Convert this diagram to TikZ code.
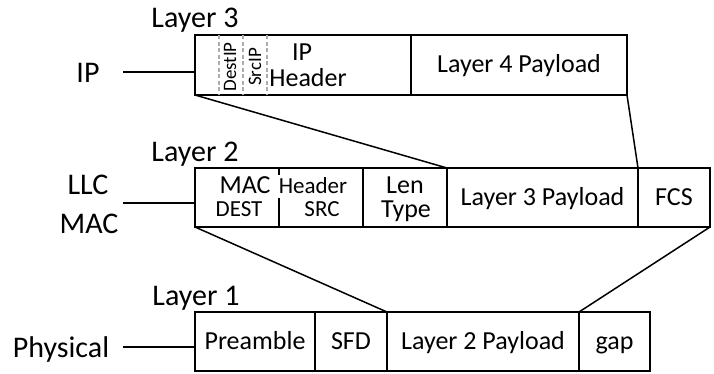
\documentclass[tikz,border=0pt]{standalone}
\usepackage{fontspec}
\setmainfont{Carlito}
\begin{document}
\begin{tikzpicture}[x=1pt,y=-1pt,line width=1.5pt,
  field/.style={draw,rectangle,anchor=north west,outer sep=0pt,inner sep=0pt,text height=17pt,text depth=2pt,font=\fontsize{26}{28}\selectfont},
  ftxt/.style={font=\fontsize{26}{28}\selectfont,inner sep=0pt,anchor=base},
  stxt/.style={font=\fontsize{23}{25}\selectfont,inner sep=0pt,anchor=base},
  rtxt/.style={font=\fontsize{19}{20}\selectfont,inner sep=0pt,rotate=90},
  lbl/.style={font=\fontsize{30}{32}\selectfont,inner sep=0pt,anchor=base},
  sep/.style={draw=gray!65,dash pattern=on 4pt off 2.5pt,line width=1.1pt}]
\useasboundingbox (0,0) rectangle (714,373);
% Layer 3
\node[field,minimum width=216pt,minimum height=60pt] (iph) at (195,35) {};
\node[field,minimum width=216pt,minimum height=60pt] (l4p) at (411,35) {Layer 4 Payload};
\draw[sep] (219,35) -- (219,95);
\draw[sep] (243,35) -- (243,95);
\draw[sep] (267,35) -- (267,95);
\node[rtxt] (dip) at (230,67) {DestIP};
\node[rtxt] (sip) at (255,67) {SrcIP};
\node[ftxt] (iptx) at (302,60) {IP};
\node[ftxt] (hdtx) at (308,86) {Header};
% Layer 2
\node[field,minimum width=168pt,minimum height=59pt] (mach) at (195,168) {};
\node[field,minimum width=84pt,minimum height=59pt] (lent) at (363,168) {};
\node[field,minimum width=191pt,minimum height=59pt] (l3p) at (447,168) {Layer 3 Payload};
\node[field,minimum width=72pt,minimum height=59pt] (fcs) at (638,168) {FCS};
\draw (279,168) -- (279,175);
\draw (279,198) -- (279,227);
\node[ftxt] (mactx) at (245,193) {MAC};
\node[stxt] (desttx) at (239,216) {DEST};
\node[stxt] (hdr2) at (313,193) {Header};
\node[stxt] (srctx) at (322,216) {SRC};
\node[ftxt] (lentx) at (405,193) {Len};
\node[ftxt] (typtx) at (406,217) {Type};
% Layer 1
\node[field,minimum width=120pt,minimum height=59pt] (pre) at (195,312) {Preamble};
\node[field,minimum width=72pt,minimum height=59pt] (sfd) at (315,312) {SFD};
\node[field,minimum width=192pt,minimum height=59pt] (l2p) at (387,312) {Layer 2 Payload};
\node[field,minimum width=71pt,minimum height=59pt] (gapf) at (579,312) {gap};
% funnels
\draw (iph.south west) -- (l3p.north west);
\draw (l4p.south east) -- (fcs.north west);
\draw (mach.south west) -- (l2p.north west);
\draw (fcs.south east) -- (gapf.north west);
% layer labels
\node[lbl] (ly3) at (195,27) {Layer 3};
\node[lbl] (ly2) at (195,161) {Layer 2};
\node[lbl] (ly1) at (196,305) {Layer 1};
% side labels
\node[lbl] (ipl) at (88,82) {IP};
\node[lbl] (llc) at (88,194) {LLC};
\node[lbl] (macl) at (89,233) {MAC};
\node[lbl] (phy) at (61,357) {Physical};
\coordinate (c3) at (123,72);
\coordinate (c2) at (123,203);
\coordinate (c1) at (123,347);
\draw (c3) -- (iph.west |- c3);
\draw (c2) -- (mach.west |- c2);
\draw (c1) -- (pre.west |- c1);
\end{tikzpicture}
\end{document}
